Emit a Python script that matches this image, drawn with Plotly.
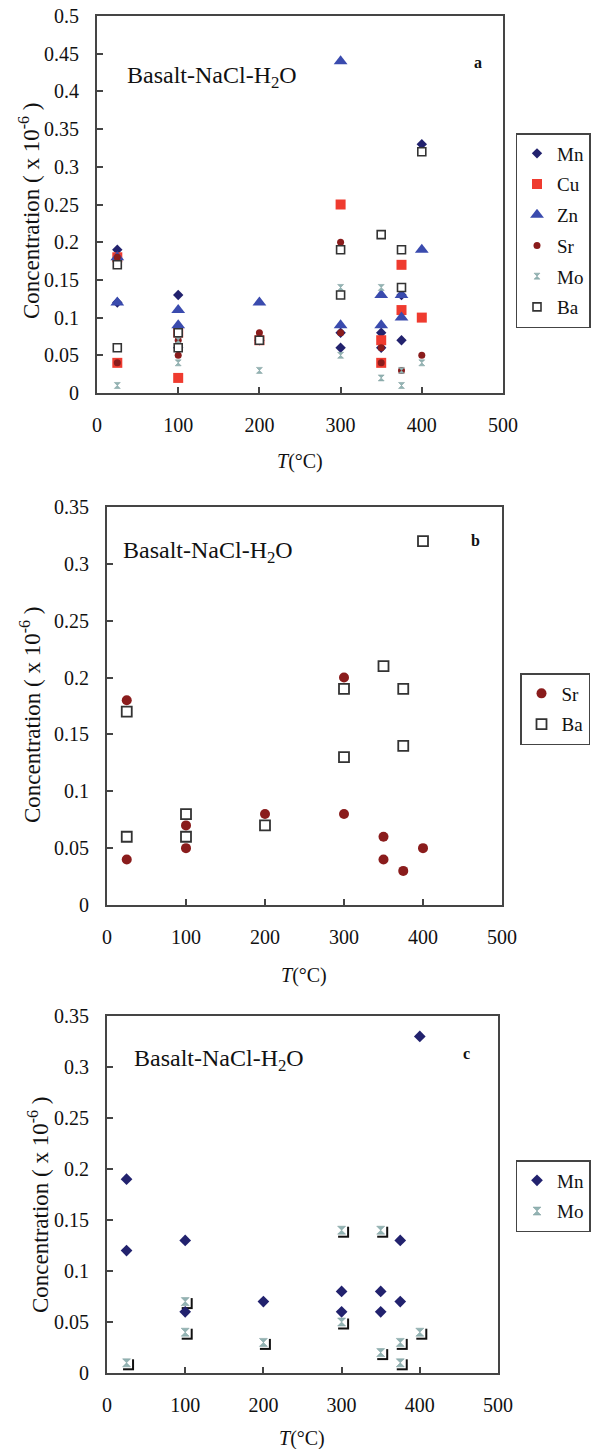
import plotly.graph_objects as go

W, H = 596, 1449

# ---------------- data (temperature in °C, concentration x 1e-6) ----------------
mn_T = [25, 25, 100, 100, 200, 300, 300, 350, 350, 375, 375, 400]
mn_C = [0.19, 0.12, 0.13, 0.06, 0.07, 0.08, 0.06, 0.08, 0.06, 0.13, 0.07, 0.33]
cu_T = [25, 25, 100, 100, 200, 300, 350, 350, 375, 375, 400]
cu_C = [0.04, 0.18, 0.02, 0.08, 0.07, 0.25, 0.07, 0.04, 0.17, 0.11, 0.10]
zn_T = [25, 25, 100, 100, 200, 300, 300, 350, 350, 375, 375, 400]
zn_C = [0.18, 0.12, 0.11, 0.09, 0.12, 0.44, 0.09, 0.13, 0.09, 0.13, 0.10, 0.19]
sr_T = [25, 25, 100, 100, 200, 300, 300, 350, 350, 375, 400]
sr_C = [0.18, 0.04, 0.07, 0.05, 0.08, 0.20, 0.08, 0.06, 0.04, 0.03, 0.05]
mo_T = [25, 100, 100, 200, 300, 300, 350, 350, 375, 375, 400]
mo_C = [0.01, 0.07, 0.04, 0.03, 0.14, 0.05, 0.14, 0.02, 0.03, 0.01, 0.04]
ba_T = [25, 25, 100, 100, 200, 300, 300, 350, 375, 375, 400]
ba_C = [0.17, 0.06, 0.08, 0.06, 0.07, 0.19, 0.13, 0.21, 0.19, 0.14, 0.32]

x_range = [0, 500]
x_ticks = [0, 100, 200, 300, 400, 500]
ya_range = [0, 0.5]
ya_ticks = [0, 0.05, 0.1, 0.15, 0.2, 0.25, 0.3, 0.35, 0.4, 0.45, 0.5]
ybc_range = [0, 0.35]
ybc_ticks = [0, 0.05, 0.1, 0.15, 0.2, 0.25, 0.3, 0.35]

panel_title = "Basalt-NaCl-H<sub>2</sub>O"
y_title = "Concentration ( x 10<sup>-6</sup> )"
x_title = "<i>T</i>(°C)"

# ---------------- styles ----------------
FONT = "Liberation Serif, Times New Roman, serif"
AX = "#454545"
C_MN = "#22226e"
C_CU = "#ef3b2f"
C_ZN = "#3a4bae"
C_SR = "#8a1c1c"
C_MO = "#93b4b4"
C_BA = "#333333"

# pixel boxes of the three plot areas: (left, right, top, bottom)
PA = (97, 503, 16, 393)
PB = (107, 502, 507, 905)
PC = (107, 498, 1016, 1373)


def fx(px):
    return px / W


def fy(py):
    return 1 - py / H


def xd(p):
    return [fx(p[0]), fx(p[1])]


def yd(p):
    return [fy(p[3]), fy(p[2])]


def xaxis(p, anchor, **kw):
    d = dict(domain=xd(p), anchor=anchor, range=x_range, tickvals=x_ticks, ticks="inside",
             ticklen=6, tickcolor=AX, tickwidth=1.5, showline=True, linecolor=AX,
             linewidth=2, mirror=True, showgrid=False, zeroline=False, automargin=False,
             ticklabelstandoff=13, ticklabeloverflow="allow", fixedrange=True,
             tickfont=dict(family=FONT, size=20, color="#111"))
    d.update(kw)
    return d


def yaxis(p, rng, ticks, anchor, **kw):
    d = dict(domain=yd(p), anchor=anchor, range=rng, tickvals=ticks,
             ticktext=[("%g" % v) for v in ticks],
             ticks="inside", ticklen=6, tickcolor=AX, tickwidth=1.5, showline=True,
             linecolor=AX, linewidth=2, mirror=True, showgrid=False, zeroline=False,
             automargin=False, ticklabelstandoff=12, ticklabeloverflow="allow",
             fixedrange=True, tickfont=dict(family=FONT, size=20, color="#111"))
    d.update(kw)
    return d


fig = go.Figure()


def sc(x, y, name, sym, size, color, xa, ya, legend, lc=None, lw=0, show=True):
    fig.add_trace(go.Scatter(
        x=x, y=y, mode="markers", name=name, xaxis=xa, yaxis=ya, legend=legend,
        showlegend=show, legendgroup=legend + name,
        marker=dict(symbol=sym, size=size, color=color,
                    line=dict(color=lc or color, width=lw)),
        hoverinfo="skip"))


# ---- panel a ----
sc(mn_T, mn_C, "Mn", "diamond", 8, C_MN, "x", "y", "legend")
sc(cu_T, cu_C, "Cu", "square", 10, C_CU, "x", "y", "legend")
sc(zn_T, zn_C, "Zn", "triangle-up", 12, C_ZN, "x", "y", "legend")
sc(sr_T, sr_C, "Sr", "circle", 7, C_SR, "x", "y", "legend")
sc(mo_T, mo_C, "Mo", "hourglass", 6, C_MO, "x", "y", "legend", lc="#7a9a9a", lw=0.5)
sc(ba_T, ba_C, "Ba", "square", 8, "white", "x", "y", "legend", lc=C_BA, lw=1.6)

# ---- panel b ----
sc(sr_T, sr_C, "Sr", "circle", 10, C_SR, "x2", "y2", "legend2")
sc(ba_T, ba_C, "Ba", "square", 10, "white", "x2", "y2", "legend2", lc=C_BA, lw=1.8)

# ---- panel c ----
# shadow layer (base subplot, shifted ranges) -> black corner brackets behind Mo marks
sc(mo_T, mo_C, "shadow", "square", 11, "#111111", "x3", "y3", "legend3", show=False)
# main layer
sc(mo_T, mo_C, "mask", "square", 11, "white", "x4", "y4", "legend3", show=False)
sc(mn_T, mn_C, "Mn", "diamond", 9, C_MN, "x4", "y4", "legend3")
sc(mo_T, mo_C, "Mo", "hourglass", 8, C_MO, "x4", "y4", "legend3", lc="#7a9a9a", lw=0.5)

# shift of the shadow layer in pixels
sx, sy = 2.0, 2.0
wc = PC[1] - PC[0]
hc = PC[3] - PC[2]
dx = sx * (x_range[1] - x_range[0]) / wc
dy = sy * (ybc_range[1] - ybc_range[0]) / hc

leg_common = dict(font=dict(family=FONT, size=19, color="#111"), bgcolor="white",
                  bordercolor="#444", borderwidth=1.5, xanchor="center", yanchor="top",
                  tracegroupgap=3, itemsizing="trace", itemwidth=30)

fig.update_layout(
    width=W, height=H, margin=dict(l=0, r=0, t=0, b=0, autoexpand=False),
    paper_bgcolor="white", plot_bgcolor="white", hovermode=False,
    xaxis=xaxis(PA, "y"), yaxis=yaxis(PA, ya_range, ya_ticks, "x"),
    xaxis2=xaxis(PB, "y2"), yaxis2=yaxis(PB, ybc_range, ybc_ticks, "x2"),
    xaxis3=dict(domain=xd(PC), anchor="y3", range=[x_range[0] - dx, x_range[1] - dx],
                visible=False, automargin=False, fixedrange=True),
    yaxis3=dict(domain=yd(PC), anchor="x3", range=[ybc_range[0] + dy, ybc_range[1] + dy],
                visible=False, automargin=False, fixedrange=True),
    xaxis4=xaxis(PC, "y4", overlaying="x3"),
    yaxis4=yaxis(PC, ybc_range, ybc_ticks, "x4", overlaying="y3"),
    legend=dict(x=fx(553), y=fy(133), **leg_common),
    legend2=dict(x=fx(555), y=fy(673), **leg_common),
    legend3=dict(x=fx(553), y=fy(1160), **leg_common),
    showlegend=True,
)

ann = []


def txt(t, xp, yp, size, xa="center", bold=False, angle=0):
    ann.append(dict(text=("<b>%s</b>" % t) if bold else t, x=fx(xp), y=fy(yp),
                    xref="paper", yref="paper", showarrow=False, xanchor=xa, yanchor="middle",
                    textangle=angle, font=dict(family=FONT, size=size, color="#111")))


txt(panel_title, 125, 77, 24, xa="left")
txt("a", 478, 62, 16, bold=True)
txt(panel_title, 121, 552, 24, xa="left")
txt("b", 475, 540, 16, bold=True)
txt(panel_title, 132, 1060, 24, xa="left")
txt("c", 467, 1053, 16, bold=True)

txt(y_title, 29, 211, 23, angle=-90)
txt(y_title, 30, 715, 23, angle=-90)
txt(y_title, 38, 1205, 23, angle=-90)

txt(x_title, 300, 462, 20)
txt(x_title, 304, 975, 20)
txt(x_title, 302, 1438, 20)

fig.update_layout(annotations=ann)

# remove the browser's default body margin so the 596x1449 figure fills the window
fig.write_html("out.html",
               config={"displayModeBar": False, "staticPlot": False},
               post_script="document.body.style.margin='0';document.body.style.overflow='hidden';")
